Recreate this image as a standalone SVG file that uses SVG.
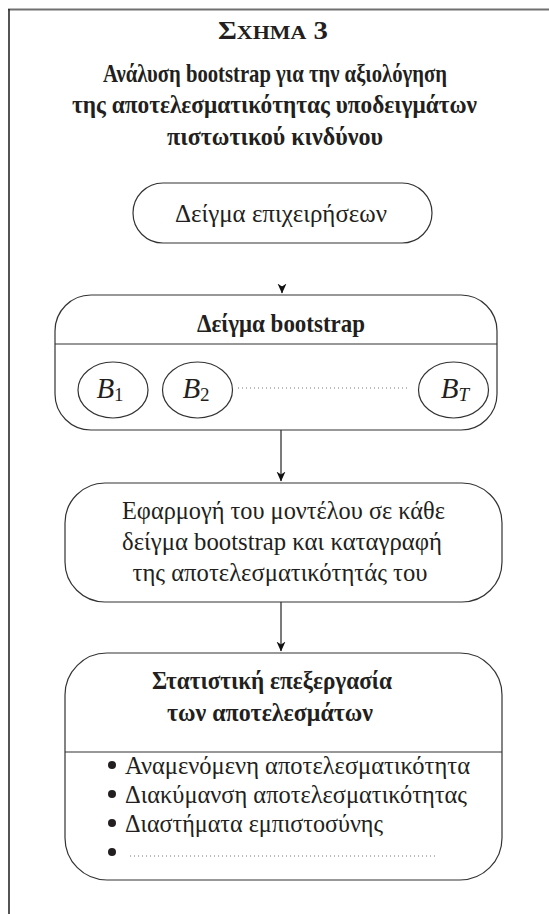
<svg xmlns="http://www.w3.org/2000/svg" width="549" height="914" viewBox="0 0 549 914">
<style>
  .frame-top{stroke:#707070;stroke-width:2;}
  .frame-left{stroke:#2a2a2a;stroke-width:1.6;}
  .box{fill:#fff;stroke:#333;stroke-width:1.2;}
  .div{stroke:#333;stroke-width:1.2;}
  text{font-family:'Liberation Serif', 'DejaVu Serif', serif;fill:#231f20;text-anchor:middle;}
  .l{text-anchor:start;}
  .b{font-weight:bold;font-size:26px;}
  .r{font-size:26px;}
  .it{font-style:italic;font-size:29px;}
  .sub{font-size:19px;}
  .dots{stroke:#777;stroke-width:1;stroke-dasharray:1 3;}
  .conn{stroke:#222;stroke-width:1.2;fill:none;marker-end:url(#ah);}
  .bul{fill:#231f20;}
</style>
<defs>
  <marker id="ah" viewBox="0 0 10 10" refX="9.5" refY="5" markerWidth="10" markerHeight="10" markerUnits="userSpaceOnUse" orient="auto">
    <path d="M0,0.5 L10,5 L0,9.5 L3,5 z" fill="#111"/>
  </marker>
</defs>

<g id="frame">
  <line class="frame-top" x1="8" y1="9.5" x2="549" y2="9.5"/>
  <line class="frame-left" x1="9" y1="9" x2="9" y2="914"/>
</g>

<g id="title">
  <text x="273" y="39" font-weight="bold" textLength="110" lengthAdjust="spacingAndGlyphs"><tspan font-size="25">Σ</tspan><tspan font-size="19">ΧΗΜΑ</tspan><tspan font-size="25"> 3</tspan></text>
  <text class="b" x="275" y="82" textLength="344" lengthAdjust="spacingAndGlyphs">Ανάλυση bootstrap για την αξιολόγηση</text>
  <text class="b" x="274.5" y="113" textLength="405" lengthAdjust="spacingAndGlyphs">της αποτελεσματικότητας υποδειγμάτων</text>
  <text class="b" x="275" y="145" textLength="216" lengthAdjust="spacingAndGlyphs">πιστωτικού κινδύνου</text>
</g>

<g id="connectors">
  <path class="conn" d="M282,286 L282,293"/>
  <path class="conn" d="M281,430 L281,481"/>
  <path class="conn" d="M281,602 L281,651"/>
</g>

<g id="node-sample">
  <rect class="box" x="133" y="183" width="299" height="60" rx="30"/>
  <text class="r" x="281" y="222" textLength="212" lengthAdjust="spacingAndGlyphs">Δείγμα επιχειρήσεων</text>
</g>

<g id="node-bootstrap">
  <rect class="box" x="55" y="295" width="442" height="135" rx="36"/>
  <line class="div" x1="55" y1="344" x2="497" y2="344"/>
  <text class="b" x="281" y="332" textLength="168" lengthAdjust="spacingAndGlyphs">Δείγμα bootstrap</text>
  <g id="node-b1">
    <ellipse class="box" cx="113" cy="390" rx="35" ry="28"/>
    <text x="110" y="398"><tspan class="it">B</tspan><tspan class="sub" dy="3">1</tspan></text>
  </g>
  <g id="node-b2">
    <ellipse class="box" cx="197.5" cy="390" rx="35" ry="28"/>
    <text x="196" y="398"><tspan class="it">B</tspan><tspan class="sub" dy="3">2</tspan></text>
  </g>
  <line class="dots" x1="238" y1="388" x2="407" y2="388"/>
  <g id="node-bt">
    <ellipse class="box" cx="453.5" cy="390" rx="35" ry="28"/>
    <text x="455" y="398"><tspan class="it">B</tspan><tspan class="sub" font-style="italic" dy="3">T</tspan></text>
  </g>
</g>

<g id="node-apply">
  <rect class="box" x="65" y="483" width="437" height="119" rx="40"/>
  <text class="r" x="283.5" y="519" textLength="323" lengthAdjust="spacingAndGlyphs">Εφαρμογή του μοντέλου σε κάθε</text>
  <text class="r" x="282" y="550" textLength="320" lengthAdjust="spacingAndGlyphs">δείγμα bootstrap και καταγραφή</text>
  <text class="r" x="280" y="581" textLength="295" lengthAdjust="spacingAndGlyphs">της αποτελεσματικότητάς του</text>
</g>

<g id="node-stats">
  <rect class="box" x="65" y="653" width="437" height="227" rx="42"/>
  <line class="div" x1="65" y1="752" x2="502" y2="752"/>
  <text class="b" x="272" y="689" textLength="240" lengthAdjust="spacingAndGlyphs">Στατιστική επεξεργασία</text>
  <text class="b" x="270" y="721" textLength="206" lengthAdjust="spacingAndGlyphs">των αποτελεσμάτων</text>
  <circle class="bul" cx="112" cy="765" r="4"/>
  <text class="r l" x="125" y="774" textLength="345" lengthAdjust="spacingAndGlyphs">Αναμενόμενη αποτελεσματικότητα</text>
  <circle class="bul" cx="112" cy="794" r="4"/>
  <text class="r l" x="125" y="803" textLength="342" lengthAdjust="spacingAndGlyphs">Διακύμανση αποτελεσματικότητας</text>
  <circle class="bul" cx="112" cy="823" r="4"/>
  <text class="r l" x="125" y="832" textLength="258" lengthAdjust="spacingAndGlyphs">Διαστήματα εμπιστοσύνης</text>
  <circle class="bul" cx="112" cy="852" r="4"/>
  <line class="dots" x1="130" y1="856" x2="435" y2="856"/>
</g>
</svg>
